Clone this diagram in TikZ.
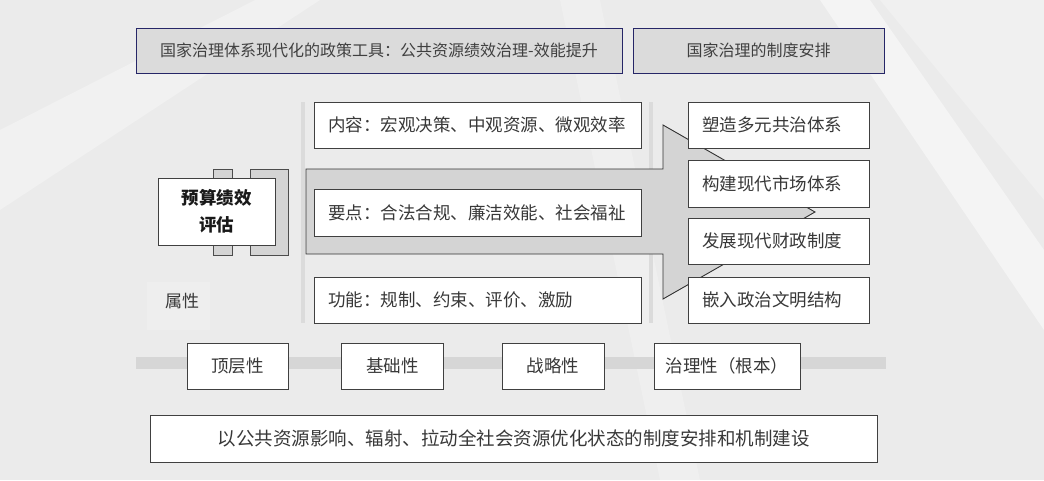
\documentclass[tikz,border=0pt]{standalone}
\usepackage{fontspec}
\setmainfont{Noto Sans CJK SC}
\begin{document}
\begin{tikzpicture}[x=1pt,y=-1pt,
  txt/.style={text=black!78},
  topbox/.style={draw=blue!30!black!85,line width=0.9pt,fill=black!14,inner sep=0pt,
    font=\fontsize{16}{19}\selectfont,text=black!75},
  wbox/.style={draw=black!75,line width=0.9pt,fill=white,inner sep=0pt,
    font=\fontsize{17.5}{20}\selectfont,text=black!78},
  lbox/.style={wbox,inner xsep=14pt,align=left},
  tab/.style={draw=black!70,line width=0.8pt,fill=black!17},
  vline/.style={draw=black!14,line width=4pt},
]
% background
\useasboundingbox (0,0) rectangle (1044,480);
\fill[black!8] (0,0) rectangle (1044,480);
\fill[white,opacity=0.45] (820,0) -- (870,0) -- (1044,250) -- (1044,330) -- cycle;
\fill[white,opacity=0.3] (0,130) -- (255,0) -- (320,0) -- (0,210) -- cycle;
\fill[white,opacity=0.2] (560,0) -- (600,0) -- (700,480) -- (660,480) -- cycle;
\fill[black!4,opacity=0.5] (880,0) -- (1044,0) -- (1044,200) -- cycle;

% top boxes
\node[topbox,minimum width=486pt,minimum height=45pt] (t1) at (379,50.5)
  {国家治理体系现代化的政策工具：公共资源绩效治理-效能提升};
\node[topbox,minimum width=251pt,minimum height=45pt] (t2) at (758.5,50.5)
  {国家治理的制度安排};

% vertical guide lines
\path[vline] (303,102) -- (303,323);
\path[vline] (651,102) -- (651,323);

% big arrow
\draw[draw=black!80,line width=0.9pt,fill=black!17]
  (306,169) -- (663,169) -- (663,125) -- (815,212) -- (663,299) -- (663,254) -- (306,254) -- cycle;

% horizontal bar
\fill[black!16] (136,357) rectangle (886,369);

% component box
\draw[tab] (213,169) rectangle (232,255);
\draw[tab] (250,169) rectangle (288,255);
\node[wbox,minimum width=117pt,minimum height=67pt,align=center,
  font=\fontsize{17.5}{27}\selectfont\bfseries,text=black!90] (pe) at (216.5,211.5)
  {预算绩效\\评估};

% attribute label
\fill[white,opacity=0.18] (147,282) rectangle (210,330);
\node[txt,font=\fontsize{17}{20}\selectfont] (sx) at (182,301) {属性};

% middle boxes
\node[lbox,text width=299pt,minimum height=46pt] (m1) at (477.5,125)
  {内容：宏观决策、中观资源、微观效率};
\node[lbox,text width=299pt,minimum height=47pt] (m2) at (477.5,212.5)
  {要点：合法合规、廉洁效能、社会福祉};
\node[lbox,text width=299pt,minimum height=46pt] (m3) at (477.5,300)
  {功能：规制、约束、评价、激励};

% right boxes
\node[lbox,text width=153pt,minimum height=46pt] (r1) at (778.5,125) {塑造多元共治体系};
\node[lbox,text width=153pt,minimum height=47pt] (r2) at (778.5,183.5) {构建现代市场体系};
\node[lbox,text width=153pt,minimum height=46pt] (r3) at (778.5,241) {发展现代财政制度};
\node[lbox,text width=153pt,minimum height=46pt] (r4) at (778.5,300) {嵌入政治文明结构};

% bottom property boxes
\node[wbox,minimum width=101pt,minimum height=46pt] (b1) at (237.5,366) {顶层性};
\node[wbox,minimum width=102pt,minimum height=46pt] (b2) at (392.5,366) {基础性};
\node[wbox,minimum width=102pt,minimum height=46pt] (b3) at (553,366) {战略性};
\node[wbox,minimum width=146pt,minimum height=46pt] (b4) at (727,366) {治理性（根本）};

% bottom wide box
\node[wbox,minimum width=727pt,minimum height=47pt,font=\fontsize{18.5}{22}\selectfont] (bw) at (513.5,438.5)
  {以公共资源影响、辐射、拉动全社会资源优化状态的制度安排和机制建设};
\end{tikzpicture}
\end{document}
